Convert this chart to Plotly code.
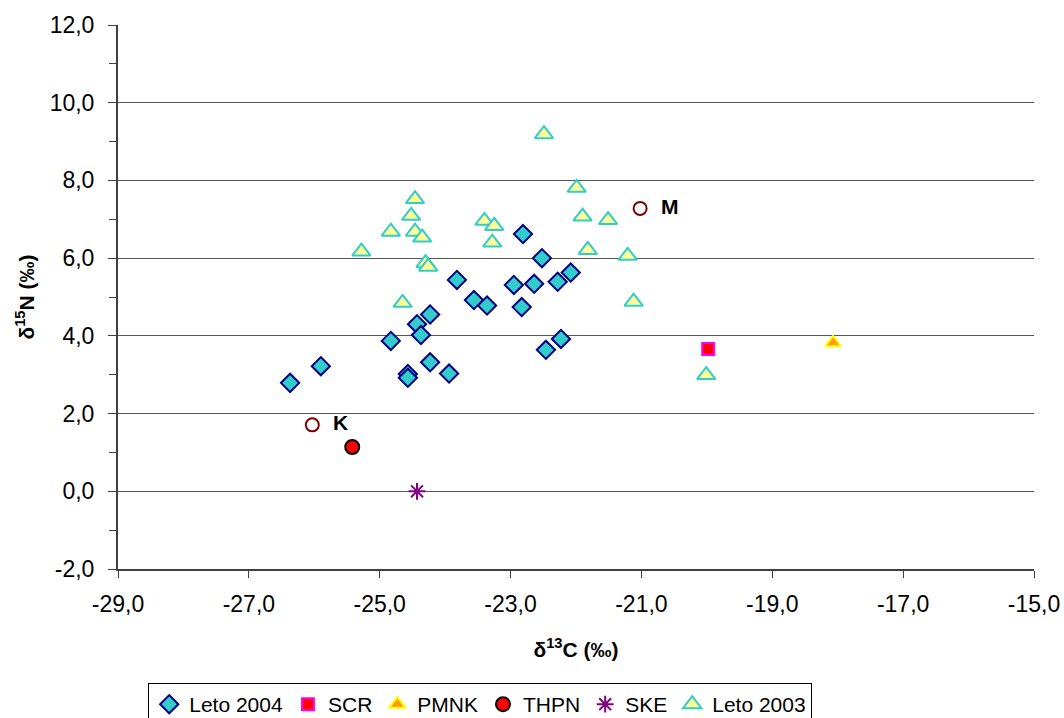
import plotly.graph_objects as go

# Leto 2004
leto04_x = [-26.37, -25.90, -24.83, -24.57, -24.57, -24.43, -24.37, -24.23, -24.23, -23.94, -23.82,
            -23.56, -23.36, -22.95, -22.83, -22.81, -22.64, -22.52, -22.46, -22.28, -22.23, -22.08]
leto04_y = [2.79, 3.22, 3.87, 3.02, 2.92, 4.30, 4.02, 4.55, 3.32, 3.03, 5.44,
            4.92, 4.78, 5.31, 4.74, 6.62, 5.34, 6.00, 3.64, 5.39, 3.92, 5.63]

# Leto 2003
leto03_x = [-25.28, -24.83, -24.65, -24.52, -24.46, -24.46, -24.35, -24.30, -24.26, -23.40, -23.25,
            -23.28, -22.49, -21.99, -21.90, -21.51, -21.82, -21.21, -21.12, -20.01]
leto03_y = [6.17, 6.68, 4.85, 7.09, 7.52, 6.68, 6.53, 5.87, 5.78, 6.96, 6.83,
            6.40, 9.19, 7.81, 7.07, 6.98, 6.21, 6.06, 4.88, 2.99]

scr_x, scr_y = [-19.98], [3.66]
pmnk_x, pmnk_y = [-18.07], [3.82]
thpn_x, thpn_y = [-25.42], [1.14]
ske_x, ske_y = [-24.43], [0.0]

km_x = [-26.03, -21.02]
km_y = [1.71, 7.28]
km_labels = ["K", "M"]

x_ticks = [-29, -27, -25, -23, -21, -19, -17, -15]
x_ticktext = ["-29,0", "-27,0", "-25,0", "-23,0", "-21,0", "-19,0", "-17,0", "-15,0"]
y_ticks = [-2, 0, 2, 4, 6, 8, 10, 12]
y_ticktext = ["-2,0", "0,0", "2,0", "4,0", "6,0", "8,0", "10,0", "12,0"]

FONT = "Arial, Liberation Sans, sans-serif"

fig = go.Figure()
fig.add_trace(go.Scatter(x=leto04_x, y=leto04_y, mode="markers", name="Leto 2004",
                         marker=dict(symbol="diamond", size=14, color="#33CCCC",
                                     line=dict(color="#000080", width=2))))
fig.add_trace(go.Scatter(x=scr_x, y=scr_y, mode="markers", name="SCR",
                         marker=dict(symbol="square", size=12, color="#FF0000",
                                     line=dict(color="#FF00FF", width=2))))
fig.add_trace(go.Scatter(x=pmnk_x, y=pmnk_y, mode="markers", name="PMNK",
                         marker=dict(symbol="triangle-up", size=14, color="#FF9900",
                                     line=dict(color="#FFFF00", width=2))))
fig.add_trace(go.Scatter(x=thpn_x, y=thpn_y, mode="markers", name="THPN",
                         marker=dict(symbol="circle", size=14, color="#FF0000",
                                     line=dict(color="#000000", width=2))))
fig.add_trace(go.Scatter(x=ske_x, y=ske_y, mode="markers", name="SKE",
                         marker=dict(symbol="asterisk-open", size=14, color="#800080",
                                     line=dict(color="#800080", width=2))))
fig.add_trace(go.Scatter(x=leto03_x, y=leto03_y, mode="markers", name="Leto 2003",
                         marker=dict(symbol="triangle-up", size=16, color="#FFFF99",
                                     line=dict(color="#33CCCC", width=2))))
fig.add_trace(go.Scatter(x=km_x, y=km_y, mode="markers+text", showlegend=False,
                         text=["  <b>" + t + "</b>" for t in km_labels], textposition="middle right",
                         textfont=dict(family=FONT, size=21, color="#000000"),
                         marker=dict(symbol="circle-open", size=13, color="#800000",
                                     line=dict(color="#800000", width=2))))

fig.update_layout(
    width=1064, height=718,
    paper_bgcolor="white", plot_bgcolor="white",
    margin=dict(l=118, r=30, t=25, b=149, autoexpand=False),
    font=dict(family=FONT, size=23, color="#000000"),
    legend=dict(orientation="h", x=0.033, y=-0.2096, xanchor="left", yanchor="top",
                bordercolor="#000000", borderwidth=1, font=dict(size=21),
                itemwidth=30, tracegroupgap=0, bgcolor="white"),
)
fig.update_xaxes(range=[-29, -15], tickvals=x_ticks, ticktext=x_ticktext,
                 showgrid=False, zeroline=False, showline=True, linecolor="#404040", linewidth=2,
                 ticks="outside", ticklen=7, tickwidth=1, tickcolor="#404040", ticklabelstandoff=6,
                 automargin=False,
                 title=dict(text="<b>δ<sup>13</sup>C (‰)</b>", font=dict(size=21), standoff=27))
fig.update_yaxes(range=[-2, 12], tickvals=y_ticks, ticktext=y_ticktext,
                 showgrid=True, gridcolor="#555555", gridwidth=1, zeroline=False,
                 showline=True, linecolor="#404040", linewidth=2,
                 ticks="outside", ticklen=8, tickwidth=1, tickcolor="#404040", ticklabelstandoff=9,
                 automargin=False,
                 minor=dict(tickvals=[-1, 1, 3, 5, 7, 9, 11], ticks="outside", ticklen=7,
                            tickcolor="#404040", showgrid=False),
                 title=dict(text="<b>δ<sup>15</sup>N (‰)</b>", font=dict(size=21), standoff=9))

fig.write_html("out.html", config={"displayModeBar": False},
               post_script="document.body.style.margin='0';")
